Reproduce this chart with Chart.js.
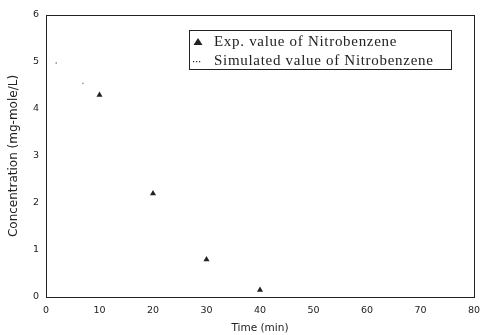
<!DOCTYPE html>
<html lang="en">
<head>
  <meta charset="UTF-8">
  <title>Nitrobenzene concentration</title>
  <script src="https://cdn.jsdelivr.net/npm/chart.js"></script>
  <style>
    body { margin: 0; background: #fff; overflow: hidden; }
    canvas { display: block; }
  </style>
</head>
<body>
  <canvas id="chart" width="481" height="335"></canvas>

  <script>
    // data
    const expTime = [10, 20, 30, 40];
    const expConc = [4.3, 2.2, 0.8, 0.15];
    const simTime = [1.9, 6.9];
    const simConc = [4.98, 4.55];
    const xTicks = [0, 10, 20, 30, 40, 50, 60, 70, 80];
    const yTicks = [0, 1, 2, 3, 4, 5, 6];

    const ink = '#222';

    // box round the plot and the legend in the top right
    const framePlugin = {
      id: 'frame',
      afterDatasetsDraw(chart) {
        const { ctx, chartArea: a } = chart;
        ctx.save();
        ctx.strokeStyle = ink;
        ctx.lineWidth = 1;
        ctx.strokeRect(a.left + 0.5, a.top + 0.5, a.right - a.left, a.bottom - a.top);

        // legend box
        const lx = 189, ly = 30, lw = 262, lh = 39;
        ctx.strokeRect(lx + 0.5, ly + 0.5, lw, lh);
        ctx.fillStyle = ink;
        ctx.font = '15px "Liberation Serif", "DejaVu Serif", serif';
        ctx.letterSpacing = '0.7px';
        ctx.textBaseline = 'middle';
        const ds = chart.data.datasets;
        // triangle marker
        ctx.beginPath();
        ctx.moveTo(198, 38);
        ctx.lineTo(202.5, 45);
        ctx.lineTo(193.5, 45);
        ctx.closePath();
        ctx.fill();
        ctx.fillText(ds[0].label, 214, 42);
        // dotted line marker
        for (let i = 0; i < 3; i++) ctx.fillRect(193 + i * 3, 61, 1.2, 1.2);
        ctx.fillText(ds[1].label, 214, 61);
        ctx.restore();
      }
    };

    new Chart(document.getElementById('chart'), {
      type: 'scatter',
      data: {
        datasets: [
          {
            label: 'Exp. value of Nitrobenzene',
            data: expTime.map((t, i) => ({ x: t, y: expConc[i] })),
            pointStyle: 'triangle',
            pointRadius: 3.5,
            backgroundColor: ink,
            borderColor: ink,
            borderWidth: 0
          },
          {
            label: 'Simulated value of Nitrobenzene',
            data: simTime.map((t, i) => ({ x: t, y: simConc[i] })),
            pointStyle: 'circle',
            pointRadius: 0.7,
            backgroundColor: '#555',
            borderWidth: 0,
            showLine: false
          }
        ]
      },
      options: {
        responsive: false,
        animation: false,
        devicePixelRatio: 1,
        layout: { padding: { top: 15, right: 7, left: 7, bottom: 0 } },
        plugins: {
          legend: { display: false },
          tooltip: { enabled: false }
        },
        scales: {
          x: {
            type: 'linear',
            min: 0,
            max: 80,
            afterFit(s) {
              s.height = 38;
              s.paddingLeft = 0;
              s.paddingRight = 0;
            },
            afterBuildTicks(s) { s.ticks = xTicks.map(v => ({ value: v })); },
            grid: { display: false, drawOnChartArea: false, tickLength: 3, color: ink },
            border: { color: ink },
            ticks: { color: ink, padding: 5, maxRotation: 0, font: { family: 'DejaVu Sans', size: 9.5 } },
            title: {
              display: true,
              text: 'Time (min)',
              color: ink,
              padding: { top: 1, bottom: 0 },
              font: { family: 'DejaVu Sans', size: 10.5 }
            }
          },
          y: {
            type: 'linear',
            min: 0,
            max: 6,
            afterFit(s) {
              s.width = 39;
              s.paddingTop = 0;
              s.paddingBottom = 0;
            },
            afterBuildTicks(s) { s.ticks = yTicks.map(v => ({ value: v })); },
            grid: { display: false, drawOnChartArea: false, tickLength: 4, color: ink },
            border: { color: ink },
            ticks: { color: ink, padding: 3, font: { family: 'DejaVu Sans', size: 9.5 } },
            title: {
              display: true,
              text: 'Concentration (mg-mole/L)',
              color: ink,
              padding: { top: 0, bottom: 4 },
              font: { family: 'DejaVu Sans', size: 12 }
            }
          }
        }
      },
      plugins: [framePlugin]
    });
  </script>
</body>
</html>
